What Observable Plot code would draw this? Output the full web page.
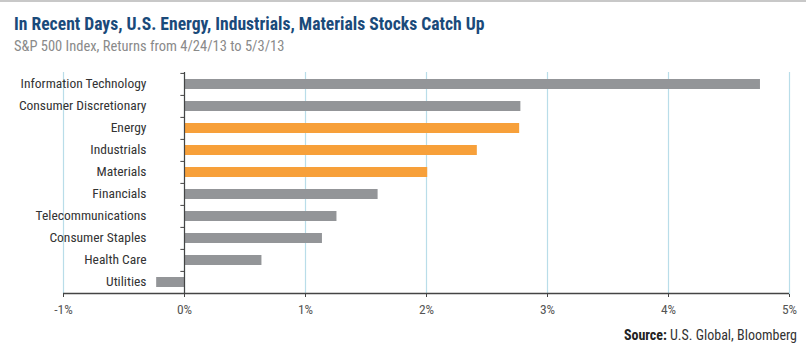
<!DOCTYPE html>
<html>
<head>
<meta charset="utf-8">
<script src="https://cdn.jsdelivr.net/npm/d3@7"></script>
<script src="https://cdn.jsdelivr.net/npm/@observablehq/plot@0.6"></script>
<style>
  html, body { margin: 0; padding: 0; background: #fff; }
  body { width: 806px; height: 351px; position: relative; overflow: hidden;
         font-family: Roboto, sans-serif; font-stretch: 75%; }
  #topline { position: absolute; left: 0; top: 0; width: 806px; height: 2px; background: #c8c8c8; }
  #title { position: absolute; left: 14px; top: 14px; font-size: 17.6px; font-weight: bold; color: #1a4a7a; white-space: nowrap; }
  #subtitle { position: absolute; left: 14px; top: 38px; font-size: 14.5px; color: #8a8a8a; white-space: nowrap; }
  #chart { position: absolute; left: 0; top: 60px; }
  #chart svg, #chart text { font-stretch: 75%; }
  #source { position: absolute; right: 9px; top: 327px; font-size: 14px; color: #333; white-space: nowrap; }
  #source b { color: #222; }
</style>
</head>
<body>
<div id="topline"></div>
<div id="title">In Recent Days, U.S. Energy, Industrials, Materials Stocks Catch Up</div>
<div id="subtitle">S&amp;P 500 Index, Returns from 4/24/13 to 5/3/13</div>
<div id="chart"></div>
<div id="source"><b>Source:</b> U.S. Global, Bloomberg</div>
<script>
const sectors = ["Information Technology", "Consumer Discretionary", "Energy", "Industrials", "Materials",
                 "Financials", "Telecommunications", "Consumer Staples", "Health Care", "Utilities"];
const returns = [4.76, 2.78, 2.77, 2.42, 2.01, 1.60, 1.26, 1.14, 0.64, -0.23];
const highlighted = ["Energy", "Industrials", "Materials"];
const xTicks = [-1, 0, 1, 2, 3, 4, 5];

const data = sectors.map((s, i) => ({sector: s, value: returns[i], hi: highlighted.includes(s)}));

const W = 806, H = 262, mTop = 12, mBottom = 28;
const step = (H - mTop - mBottom) / sectors.length;

const chart = Plot.plot({
  width: W,
  height: H,
  marginLeft: 63,
  marginRight: 17,
  marginTop: mTop,
  marginBottom: mBottom,
  style: {fontFamily: "Roboto, sans-serif", fontStretch: "75%", fontSize: "13.5px", color: "#333", background: "#fff"},
  x: {domain: [-1, 5], label: null},
  y: {domain: sectors, paddingInner: 0.56, paddingOuter: 0.28, label: null},
  marks: [
    Plot.gridX(xTicks, {stroke: "#b9dde9", strokeOpacity: 1, strokeWidth: 1.2}),
    Plot.barX(data, {y: "sector", x: "value", fill: d => d.hi ? "#f7a03a" : "#939598"}),
    Plot.ruleX([0], {stroke: "#444", strokeWidth: 1.2}),
    Plot.ruleY(sectors, {y: d => d, x1: -0.03, x2: 0, dy: -step / 2, stroke: "#444"}),
    Plot.ruleY(sectors.slice(-1), {y: d => d, x1: -1, x2: 5, dy: step / 2, stroke: "#444", strokeWidth: 1.5}),
    Plot.axisX({ticks: xTicks, tickFormat: d => d + "%", tickSize: 3, tickPadding: 7, stroke: "#444",
                fontSize: 13.5, fill: "#555", label: null}),
    Plot.axisY({anchor: "left", tickSize: 0, tickPadding: 0, dx: 83, dy: -1, fontSize: 13.5, fill: "#333", label: null})
  ]
});
document.getElementById("chart").appendChild(chart);
</script>
</body>
</html>
